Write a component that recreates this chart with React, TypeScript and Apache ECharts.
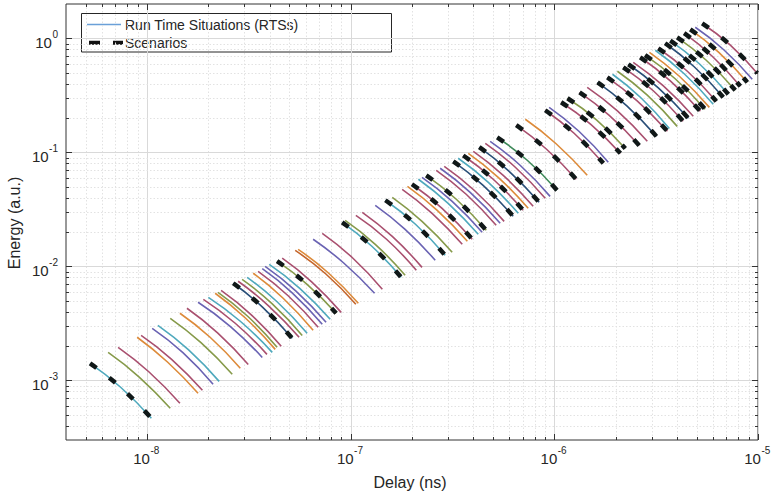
import React, { useEffect, useRef } from 'react';
import * as echarts from 'echarts';

// Axis extents (log-log)
const xMin = 4e-9;
const xMax = 1e-5;
const yMin = 3e-4;
const yMax = 2;

// Major ticks and their labels (10^exp)
const xMajorTicks = [1e-8, 1e-7, 1e-6, 1e-5];
const xMajorExp = ['-8', '-7', '-6', '-5'];
const yMajorTicks = [1e-3, 1e-2, 1e-1, 1];
const yMajorExp = ['-3', '-2', '-1', '0'];
const minorMantissas = [2, 3, 4, 5, 6, 7, 8, 9];
const xDecades = [-9, -8, -7, -6];
const yDecades = [-4, -3, -2, -1, 0];

const legendLabels = ['Run Time Situations (RTSs)', 'Scenarios'];
const xTitle = 'Delay (ns)';
const yTitle = 'Energy (a.u.)';

// Each RTS curve: three [delay, energy] points (start, middle, end)
const rtsCurves: [number, number][][] = [
  [[5.25e-9, 1.41e-3], [7.42e-9, 8.70e-4], [1.05e-8, 4.65e-4]],
  [[6.44e-9, 1.76e-3], [9.15e-9, 1.07e-3], [1.30e-8, 5.69e-4]],
  [[7.21e-9, 1.95e-3], [1.02e-8, 1.19e-3], [1.45e-8, 6.29e-4]],
  [[8.94e-9, 2.39e-3], [1.26e-8, 1.45e-3], [1.78e-8, 7.70e-4]],
  [[9.35e-9, 2.48e-3], [1.32e-8, 1.53e-3], [1.87e-8, 8.18e-4]],
  [[1.06e-8, 2.86e-3], [1.50e-8, 1.75e-3], [2.11e-8, 9.23e-4]],
  [[1.13e-8, 3.04e-3], [1.60e-8, 1.85e-3], [2.26e-8, 9.80e-4]],
  [[1.30e-8, 3.50e-3], [1.84e-8, 2.14e-3], [2.62e-8, 1.13e-3]],
  [[1.45e-8, 3.88e-3], [2.04e-8, 2.39e-3], [2.87e-8, 1.28e-3]],
  [[1.57e-8, 4.29e-3], [2.22e-8, 2.61e-3], [3.14e-8, 1.38e-3]],
  [[1.78e-8, 4.84e-3], [2.56e-8, 2.98e-3], [3.68e-8, 1.59e-3]],
  [[1.89e-8, 5.14e-3], [2.71e-8, 3.17e-3], [3.88e-8, 1.69e-3]],
  [[2.00e-8, 5.35e-3], [2.87e-8, 3.30e-3], [4.12e-8, 1.76e-3]],
  [[2.16e-8, 5.81e-3], [3.03e-8, 3.54e-3], [4.26e-8, 1.87e-3]],
  [[2.23e-8, 5.92e-3], [3.12e-8, 3.65e-3], [4.35e-8, 1.95e-3]],
  [[2.31e-8, 6.16e-3], [3.25e-8, 3.76e-3], [4.56e-8, 1.99e-3]],
  [[2.65e-8, 7.11e-3], [3.70e-8, 4.37e-3], [5.16e-8, 2.34e-3]],
  [[2.80e-8, 7.40e-3], [3.95e-8, 4.51e-3], [5.58e-8, 2.39e-3]],
  [[2.93e-8, 7.70e-3], [4.12e-8, 4.69e-3], [5.78e-8, 2.48e-3]],
  [[3.10e-8, 8.02e-3], [4.35e-8, 4.89e-3], [6.11e-8, 2.59e-3]],
  [[3.32e-8, 8.70e-3], [4.66e-8, 5.25e-3], [6.54e-8, 2.75e-3]],
  [[3.51e-8, 9.05e-3], [4.93e-8, 5.52e-3], [6.92e-8, 2.92e-3]],
  [[3.68e-8, 9.54e-3], [5.16e-8, 5.86e-3], [7.25e-8, 3.10e-3]],
  [[3.80e-8, 1.00e-2], [5.37e-8, 6.10e-3], [7.57e-8, 3.23e-3]],
  [[3.98e-8, 1.04e-2], [5.62e-8, 6.42e-3], [7.93e-8, 3.43e-3]],
  [[4.35e-8, 1.11e-2], [6.07e-8, 7.03e-3], [8.48e-8, 3.88e-3]],
  [[4.61e-8, 1.18e-2], [6.43e-8, 7.32e-3], [8.98e-8, 3.95e-3]],
  [[5.34e-8, 1.38e-2], [7.53e-8, 8.61e-3], [1.06e-7, 4.65e-3]],
  [[5.52e-8, 1.41e-2], [7.75e-8, 8.79e-3], [1.09e-7, 4.74e-3]],
  [[6.54e-8, 1.73e-2], [9.24e-8, 1.07e-2], [1.31e-7, 5.81e-3]],
  [[7.25e-8, 1.95e-2], [1.02e-7, 1.19e-2], [1.43e-7, 6.29e-3]],
  [[9.08e-8, 2.43e-2], [1.27e-7, 1.50e-2], [1.77e-7, 8.02e-3]],
  [[9.39e-8, 2.53e-2], [1.32e-7, 1.56e-2], [1.85e-7, 8.34e-3]],
  [[1.06e-7, 2.80e-2], [1.50e-7, 1.73e-2], [2.10e-7, 9.23e-3]],
  [[1.14e-7, 2.98e-2], [1.60e-7, 1.83e-2], [2.24e-7, 9.80e-3]],
  [[1.32e-7, 3.43e-2], [1.85e-7, 2.11e-2], [2.60e-7, 1.13e-2]],
  [[1.48e-7, 3.80e-2], [2.08e-7, 2.34e-2], [2.91e-7, 1.25e-2]],
  [[1.60e-7, 4.03e-2], [2.24e-7, 2.48e-2], [3.15e-7, 1.33e-2]],
  [[1.79e-7, 4.74e-2], [2.51e-7, 2.92e-2], [3.53e-7, 1.56e-2]],
  [[1.90e-7, 5.03e-2], [2.66e-7, 3.10e-2], [3.74e-7, 1.66e-2]],
  [[2.00e-7, 5.25e-2], [2.81e-7, 3.23e-2], [3.95e-7, 1.73e-2]],
  [[2.15e-7, 5.81e-2], [3.01e-7, 3.57e-2], [4.23e-7, 1.91e-2]],
  [[2.24e-7, 6.04e-2], [3.15e-7, 3.72e-2], [4.42e-7, 1.99e-2]],
  [[2.35e-7, 6.29e-2], [3.30e-7, 3.88e-2], [4.63e-7, 2.07e-2]],
  [[2.63e-7, 6.96e-2], [3.69e-7, 4.29e-2], [5.18e-7, 2.29e-2]],
  [[2.75e-7, 7.25e-2], [3.86e-7, 4.46e-2], [5.42e-7, 2.39e-2]],
  [[2.88e-7, 7.54e-2], [4.04e-7, 4.65e-2], [5.67e-7, 2.48e-2]],
  [[3.19e-7, 8.34e-2], [4.47e-7, 5.14e-2], [6.28e-7, 2.75e-2]],
  [[3.37e-7, 8.88e-2], [4.74e-7, 5.46e-2], [6.65e-7, 2.92e-2]],
  [[3.57e-7, 9.38e-2], [5.01e-7, 5.81e-2], [7.03e-7, 3.10e-2]],
  [[3.78e-7, 9.80e-2], [5.30e-7, 6.04e-2], [7.44e-7, 3.23e-2]],
  [[4.00e-7, 1.02e-1], [5.61e-7, 6.29e-2], [7.87e-7, 3.36e-2]],
  [[4.28e-7, 1.11e-1], [6.00e-7, 6.82e-2], [8.42e-7, 3.65e-2]],
  [[4.58e-7, 1.20e-1], [6.43e-7, 7.40e-2], [9.02e-7, 3.95e-2]],
  [[4.84e-7, 1.25e-1], [6.79e-7, 7.70e-2], [9.53e-7, 4.11e-2]],
  [[5.24e-7, 1.35e-1], [7.36e-7, 8.52e-2], [1.03e-6, 4.65e-2]],
  [[6.50e-7, 1.73e-1], [9.13e-7, 1.07e-1], [1.28e-6, 5.81e-2]],
  [[7.20e-7, 1.95e-1], [1.02e-6, 1.19e-1], [1.45e-6, 6.29e-2]],
  [[9.02e-7, 2.34e-1], [1.25e-6, 1.47e-1], [1.74e-6, 8.02e-2]],
  [[9.43e-7, 2.48e-1], [1.32e-6, 1.53e-1], [1.84e-6, 8.18e-2]],
  [[1.08e-6, 2.75e-1], [1.51e-6, 1.76e-1], [2.11e-6, 9.80e-2]],
  [[1.16e-6, 2.98e-1], [1.61e-6, 1.93e-1], [2.23e-6, 1.08e-1]],
  [[1.33e-6, 3.36e-1], [1.86e-6, 2.11e-1], [2.61e-6, 1.15e-1]],
  [[1.45e-6, 3.72e-1], [2.04e-6, 2.31e-1], [2.86e-6, 1.25e-1]],
  [[1.63e-6, 4.11e-1], [2.27e-6, 2.56e-1], [3.17e-6, 1.38e-1]],
  [[1.82e-6, 4.55e-1], [2.55e-6, 2.83e-1], [3.59e-6, 1.53e-1]],
  [[1.93e-6, 4.84e-1], [2.66e-6, 3.01e-1], [3.67e-6, 1.62e-1]],
  [[2.04e-6, 5.14e-1], [2.86e-6, 3.17e-1], [4.01e-6, 1.69e-1]],
  [[2.18e-6, 5.57e-1], [3.06e-6, 3.47e-1], [4.29e-6, 1.87e-1]],
  [[2.31e-6, 5.92e-1], [3.24e-6, 3.68e-1], [4.55e-6, 1.99e-1]],
  [[2.64e-6, 6.82e-1], [3.71e-6, 4.24e-1], [5.21e-6, 2.29e-1]],
  [[2.79e-6, 7.11e-1], [3.92e-6, 4.42e-1], [5.50e-6, 2.39e-1]],
  [[2.93e-6, 7.54e-1], [4.11e-6, 4.65e-1], [5.77e-6, 2.48e-1]],
  [[3.24e-6, 8.18e-1], [4.50e-6, 5.14e-1], [6.24e-6, 2.80e-1]],
  [[3.50e-6, 9.05e-1], [4.86e-6, 5.63e-1], [6.75e-6, 3.04e-1]],
  [[3.71e-6, 9.54e-1], [5.15e-6, 5.98e-1], [7.15e-6, 3.23e-1]],
  [[4.01e-6, 1.02], [5.57e-6, 6.42e-1], [7.73e-6, 3.50e-1]],
  [[4.34e-6, 1.11], [5.96e-6, 6.96e-1], [8.19e-6, 3.80e-1]],
  [[4.65e-6, 1.20], [6.42e-6, 7.54e-1], [8.86e-6, 4.11e-1]],
  [[5.32e-6, 1.35], [7.27e-6, 8.79e-1], [9.91e-6, 4.94e-1]],
  [[3.13e-6, 7.86e-1], [4.34e-6, 4.89e-1], [6.03e-6, 2.64e-1]],
  [[4.92e-6, 1.25], [6.79e-6, 7.94e-1], [9.37e-6, 4.37e-1]],
  [[2.44e-6, 6.16e-1], [3.42e-6, 3.84e-1], [4.81e-6, 2.07e-1]],
];

// Colour key of each RTS curve (see palette below)
const rtsColorKey = [
  'C', 'G', 'P', 'O', 'P', 'B', 'C', 'G', 'O', 'P',
  'B', 'P', 'C', 'O', 'G', 'P', 'N', 'P', 'G', 'C',
  'O', 'P', 'B', 'B', 'C', 'G', 'P', 'R', 'O', 'B',
  'P', 'C', 'G', 'P', 'P', 'B', 'C', 'G', 'P', 'O',
  'P', 'C', 'B', 'G', 'P', 'B', 'P', 'N', 'C', 'P',
  'O', 'P', 'N', 'P', 'B', 'D', 'P', 'O', 'P', 'B',
  'P', 'G', 'P', 'P', 'N', 'P', 'C', 'G', 'P', 'N',
  'P', 'G', 'O', 'P', 'N', 'C', 'G', 'P', 'O', 'P',
  'C', 'B', 'P',
];

// Curves that are also scenarios (index into rtsCurves)
const scenarioIndex = [
  0, 16, 25, 31, 36, 40, 43, 47, 49, 52, 55, 56, 58, 60, 61, 62,
  64, 65, 68, 69, 70, 71, 73, 74, 75, 76, 77, 78, 79,
];

const palette: Record<string, string> = {
  B: '#6a63b3',
  O: '#dd8b3b',
  R: '#c5662c',
  P: '#a9506f',
  G: '#869a4a',
  C: '#4fa9bd',
  N: '#2a4f78',
  D: '#3f8a5a',
};

const FF = '"Liberation Sans", Arial, Helvetica, sans-serif';
const TXT = '#262626';

function buildMinor(decades: number[], lo: number, hi: number): number[] {
  const out: number[] = [];
  decades.forEach((k) => {
    minorMantissas.forEach((m) => {
      const v = m * Math.pow(10, k);
      if (v > lo * 1.0001 && v < hi * 0.9999) out.push(v);
    });
  });
  return out;
}

export default function App() {
  const ref = useRef<HTMLDivElement>(null);

  useEffect(() => {
    if (!ref.current) return;
    const chart = echarts.init(ref.current, undefined, { renderer: 'svg' });

    const canvas = document.createElement('canvas');
    const ctx = canvas.getContext('2d') as CanvasRenderingContext2D;
    const tw = (t: string, size: number) => {
      ctx.font = `${size}px ${FF}`;
      return ctx.measureText(t).width;
    };

    const xMinor = buildMinor(xDecades, xMin, xMax);
    const yMinor = buildMinor(yDecades, yMin, yMax);

    const tickData: number[][] = [];
    xMajorTicks.forEach((v, i) => tickData.push([v, yMin, 0, i]));
    xMinor.forEach((v) => tickData.push([v, yMin, 1, -1]));
    yMajorTicks.forEach((v, i) => tickData.push([xMin, v, 2, i]));
    yMinor.forEach((v) => tickData.push([xMin, v, 3, -1]));

    const BASE = 15;
    const SUP = 10;

    const renderTicks = (params: any, api: any) => {
      const kind = api.value(2);
      const li = api.value(3);
      const children: any[] = [];
      const major = kind === 0 || kind === 2;
      const gridStyle = major
        ? { stroke: '#d9d9d9', lineWidth: 1 }
        : { stroke: '#e2e2e2', lineWidth: 1, lineDash: [1.5, 2] };
      const tickLen = major ? 6 : 3;
      const tickStyle = { stroke: '#333333', lineWidth: 1 };
      if (kind <= 1) {
        const v = api.value(0);
        const b = api.coord([v, yMin]);
        const t = api.coord([v, yMax]);
        const x = Math.round(b[0]) + 0.5;
        children.push({ type: 'line', shape: { x1: x, y1: t[1], x2: x, y2: b[1] }, style: gridStyle });
        children.push({ type: 'line', shape: { x1: x, y1: b[1], x2: x, y2: b[1] - tickLen }, style: tickStyle });
        children.push({ type: 'line', shape: { x1: x, y1: t[1], x2: x, y2: t[1] + tickLen }, style: tickStyle });
        if (kind === 0 && li >= 0) {
          const exp = xMajorExp[li];
          const w10 = tw('10', BASE);
          const ws = tw(exp, SUP);
          const left = b[0] - 1 - (w10 + ws) / 2;
          children.push({
            type: 'text',
            style: { text: '10', x: left, y: b[1] + 18, fill: TXT, fontSize: BASE, fontFamily: FF, align: 'left', verticalAlign: 'middle' },
          });
          children.push({
            type: 'text',
            style: { text: exp, x: left + w10 + 0.5, y: b[1] + 10.5, fill: TXT, fontSize: SUP, fontFamily: FF, align: 'left', verticalAlign: 'middle' },
          });
        }
      } else {
        const v = api.value(1);
        const l = api.coord([xMin, v]);
        const r = api.coord([xMax, v]);
        const y = Math.round(l[1]) + 0.5;
        children.push({ type: 'line', shape: { x1: l[0], y1: y, x2: r[0], y2: y }, style: gridStyle });
        children.push({ type: 'line', shape: { x1: l[0], y1: y, x2: l[0] + tickLen, y2: y }, style: tickStyle });
        children.push({ type: 'line', shape: { x1: r[0] - tickLen, y1: y, x2: r[0], y2: y }, style: tickStyle });
        if (kind === 2 && li >= 0) {
          const exp = yMajorExp[li];
          const ws = tw(exp, SUP);
          const right = l[0] - 8;
          children.push({
            type: 'text',
            style: { text: exp, x: right, y: l[1] - 3.5, fill: TXT, fontSize: SUP, fontFamily: FF, align: 'right', verticalAlign: 'middle' },
          });
          children.push({
            type: 'text',
            style: { text: '10', x: right - ws - 0.5, y: l[1] + 4, fill: TXT, fontSize: BASE, fontFamily: FF, align: 'right', verticalAlign: 'middle' },
          });
        }
      }
      return { type: 'group', children };
    };

    const rtsSeries = rtsCurves.map((pts, i) => ({
      type: 'line',
      name: legendLabels[0],
      data: pts,
      smooth: true,
      showSymbol: false,
      symbol: 'none',
      silent: true,
      clip: true,
      z: 3,
      lineStyle: { color: palette[rtsColorKey[i]] || palette.B, width: 1.6 },
    }));

    const scenarioSeries = scenarioIndex.map((idx) => ({
      type: 'line',
      name: legendLabels[1],
      data: rtsCurves[idx],
      smooth: true,
      showSymbol: false,
      symbol: 'none',
      silent: true,
      clip: true,
      z: 4,
      lineStyle: { color: '#101818', width: 4.5, type: [8, 16], cap: 'butt' },
    }));

    const option: any = {
      animation: false,
      backgroundColor: '#ffffff',
      grid: {
        left: 66,
        right: 14,
        top: 4,
        bottom: 53,
        show: true,
        borderColor: '#333333',
        borderWidth: 1,
        backgroundColor: 'transparent',
        outerBoundsMode: 'none',
      },
      xAxis: {
        type: 'log',
        logBase: 10,
        min: xMin,
        max: xMax,
        axisLine: { show: false },
        axisTick: { show: false },
        axisLabel: { show: false },
        splitLine: { show: false },
        minorTick: { show: false },
        minorSplitLine: { show: false },
      },
      yAxis: {
        type: 'log',
        logBase: 10,
        min: yMin,
        max: yMax,
        axisLine: { show: false },
        axisTick: { show: false },
        axisLabel: { show: false },
        splitLine: { show: false },
        minorTick: { show: false },
        minorSplitLine: { show: false },
      },
      series: [
        {
          type: 'custom',
          silent: true,
          z: 1,
          renderItem: renderTicks,
          data: tickData,
          clip: false,
        },
        ...rtsSeries,
        ...scenarioSeries,
      ],
      graphic: [
        {
          type: 'text',
          z: 100,
          x: 410,
          y: 482,
          style: { text: xTitle, fill: TXT, fontSize: 16, fontFamily: FF, align: 'center', verticalAlign: 'middle' },
        },
        {
          type: 'text',
          z: 100,
          x: 14,
          y: 223,
          rotation: Math.PI / 2,
          style: { text: yTitle, fill: TXT, fontSize: 16, fontFamily: FF, align: 'center', verticalAlign: 'middle' },
        },
        {
          type: 'group',
          z: 100,
          children: [
            {
              type: 'rect',
              shape: { x: 81.5, y: 13.5, width: 310, height: 38.5 },
              style: { fill: '#ffffff', stroke: TXT, lineWidth: 1 },
            },
            {
              type: 'line',
              shape: { x1: 87, y1: 24.5, x2: 121, y2: 24.5 },
              style: { stroke: '#6aa0d8', lineWidth: 1.6 },
            },
            {
              type: 'text',
              x: 125,
              y: 24.5,
              style: { text: legendLabels[0], fill: TXT, fontSize: 14, fontFamily: FF, align: 'left', verticalAlign: 'middle' },
            },
            {
              type: 'line',
              shape: { x1: 89, y1: 42.8, x2: 123, y2: 42.8 },
              style: { stroke: '#111111', lineWidth: 4, lineDash: [11, 13] },
            },
            {
              type: 'text',
              x: 125,
              y: 43,
              style: { text: legendLabels[1], fill: TXT, fontSize: 14, fontFamily: FF, align: 'left', verticalAlign: 'middle' },
            },
          ],
        },
      ],
    };

    chart.setOption(option);
    return () => {
      chart.dispose();
    };
  }, []);

  return (
    <div
      ref={ref}
      style={{ position: 'absolute', left: 0, top: 0, width: 772, height: 493, background: '#fff' }}
    />
  );
}
